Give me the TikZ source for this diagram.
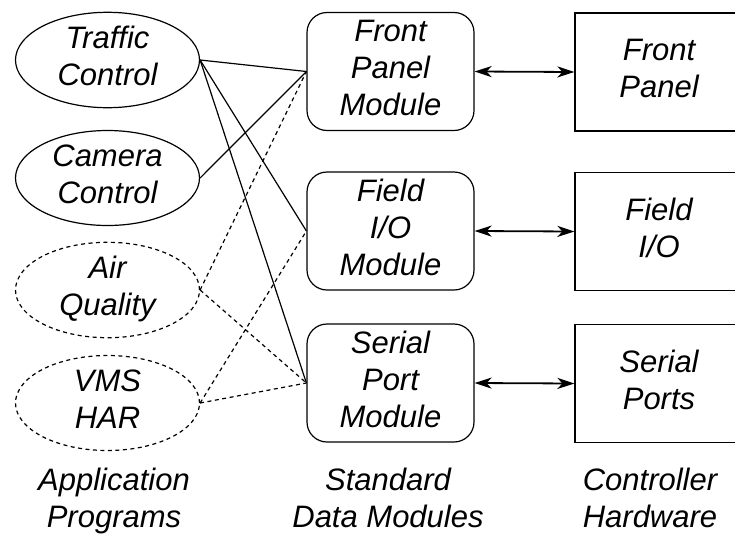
\documentclass[tikz,border=0pt]{standalone}
\usepackage{fontspec}
\setmainfont{Liberation Sans}
\usetikzlibrary{shapes.geometric,arrows.meta}
\begin{document}
\begin{tikzpicture}[x=1pt,y=-1pt,
  every node/.style={font=\fontsize{31}{37}\selectfont\itshape, align=center,
    inner sep=0pt, text depth=8pt},
  app/.style={ellipse, draw, line width=1.2pt, minimum width=184pt, minimum height=95pt},
  optapp/.style={app, dash pattern=on 4pt off 3.5pt},
  module/.style={draw, rounded corners=20pt, line width=1.2pt,
    minimum width=167pt, minimum height=118pt},
  hwbox/.style={draw, line width=1.2pt, minimum width=168pt, minimum height=118pt},
  link/.style={line width=1.2pt},
  optlink/.style={line width=1.2pt, dash pattern=on 4pt off 3.5pt},
  bus/.style={line width=1.8pt,
    {Stealth[length=17pt,width=11pt,inset=5pt]}-{Stealth[length=17pt,width=11pt,inset=5pt]}},
  caption/.style={anchor=north, text depth=0pt}
]
\useasboundingbox (0,0) rectangle (735,533);

% application programs
\node[app]    (traffic) at (107.5,60)  {Traffic\\Control};
\node[app]    (camera)  at (107.5,178) {Camera\\Control};
\node[optapp] (air)     at (107.5,290) {Air\\Quality};
\node[optapp] (vms)     at (107.5,403) {VMS\\HAR};

% standard data modules
\node[module] (fpm) at (390.5,71.5) {Front\\Panel\\Module};
\node[module] (fim) at (390.5,231)  {Field\\I/O\\Module};
\node[module] (spm) at (390.5,383)  {Serial\\Port\\Module};

% controller hardware
\node[hwbox] (fp) at (659,72)    {Front\\Panel};
\node[hwbox] (fi) at (659,231.5) {Field\\I/O};
\node[hwbox] (sp) at (659,383.5) {Serial\\Ports};

% column captions
\node[caption] (capapp) at (114,468) {Application\\Programs};
\node[caption] (capstd) at (388,468) {Standard\\Data Modules};
\node[caption] (caphw)  at (650,468) {Controller\\Hardware};

% program-to-module links
\draw[link] (traffic.east) -- (fpm.west);
\draw[link] (traffic.east) -- (fim.west);
\draw[link] (traffic.east) -- (spm.west);
\draw[link] (camera.east) -- (fpm.west);
\draw[optlink] (air.east) -- (fpm.west);
\draw[optlink] (air.east) -- (spm.west);
\draw[optlink] (vms.east) -- (fim.west);
\draw[optlink] (vms.east) -- (spm.west);

% module-to-hardware links
\draw[bus] (fpm.east) -- (fp.west);
\draw[bus] (fim.east) -- (fi.west);
\draw[bus] (spm.east) -- (sp.west);
\end{tikzpicture}
\end{document}
